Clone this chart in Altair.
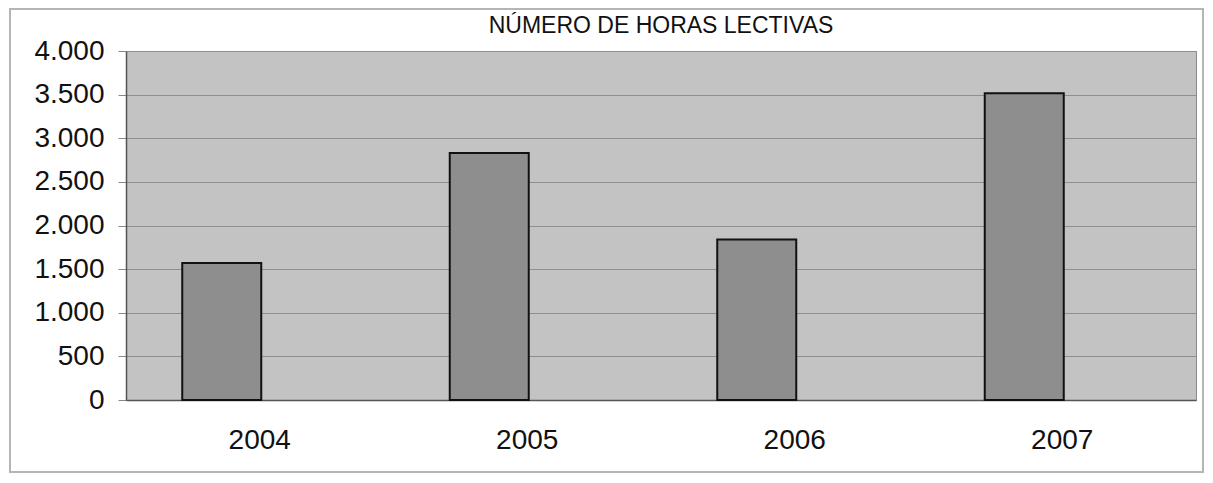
import altair as alt
import pandas as pd

years = ["2004", "2005", "2006", "2007"]
hours = [1570, 2830, 1840, 3515]
y_ticks = [0, 500, 1000, 1500, 2000, 2500, 3000, 3500, 4000]
title_text = "NÚMERO DE HORAS LECTIVAS"

df = pd.DataFrame({"year": years, "hours": hours})

FONT = "Liberation Sans"

bars = alt.Chart(df).mark_bar(
    size=79, xOffset=-38, fill="#8e8e8e", stroke="#111111", strokeWidth=2
).encode(
    x=alt.X("year:N", sort=years, title=None,
            scale=alt.Scale(paddingInner=0, paddingOuter=0),
            axis=alt.Axis(labelAngle=0, labelFontSize=28, labelFont=FONT,
                          labelColor="#111111", labelPadding=26, ticks=False,
                          domainColor="#555555", domainWidth=1.5, grid=False)),
    y=alt.Y("hours:Q", title=None,
            scale=alt.Scale(domain=[0, 4000], nice=False),
            axis=alt.Axis(values=y_ticks, labelFontSize=28, labelFont=FONT,
                          labelColor="#111111", labelPadding=14, tickSize=8,
                          tickColor="#888888", domainColor="#555555",
                          domainWidth=1.5, gridColor="#8f8f8f", gridWidth=1.2,
                          labelExpr="replace(format(datum.value, ','), ',', '.')")),
)

frame = alt.Chart(alt.Data(values=[{"a": 1}])).mark_rect(
    fill=None, stroke="#b5b5b5", strokeWidth=2
).encode(
    x=alt.value(-116), x2=alt.value(1077), y=alt.value(-42), y2=alt.value(421)
)

chart = alt.layer(frame, bars).properties(
    width=1070,
    height=349,
    title=alt.TitleParams(title_text, fontSize=23, font=FONT, fontWeight="normal",
                          color="#111111", anchor="middle", offset=-48,
                          baseline="alphabetic", frame="group"),
    padding={"left": 118, "top": 43, "right": 9, "bottom": 74},
    autosize=alt.AutoSizeParams(type="none"),
).configure(
    background="white"
).configure_view(
    fill="#c3c3c3", stroke="#8a8a8a", strokeWidth=1
)

chart.save("out.html", embed_options={"renderer": "svg", "actions": False})
